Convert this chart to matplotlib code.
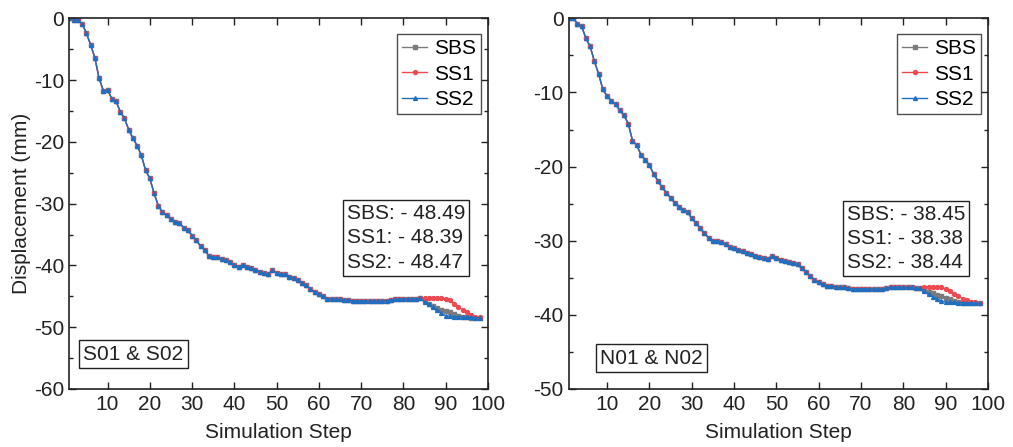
import numpy as np
import matplotlib
matplotlib.use("Agg")
import matplotlib.pyplot as plt
from matplotlib.ticker import MultipleLocator

plt.rcParams['font.family'] = ['Liberation Sans', 'DejaVu Sans']
plt.rcParams['axes.unicode_minus'] = False

# ---- Panel A: S01 & S02 -------------------------------------------------
steps = list(range(1, 99))

# shared path for steps 1..84
s_common = [
    0.0, -0.2, -0.3, -0.9, -2.4, -4.3, -6.4, -9.7, -11.7, -11.6,
    -13.0, -13.4, -15.1, -16.2, -18.0, -19.4, -20.6, -22.2, -24.6, -25.9,
    -28.3, -30.3, -31.4, -31.9, -32.5, -32.9, -33.1, -33.9, -34.2, -35.2,
    -35.9, -36.9, -37.5, -38.5, -38.6, -38.7, -38.9, -39.2, -39.5, -39.9,
    -40.2, -39.9, -40.2, -40.4, -40.7, -41.0, -41.2, -41.4, -40.8, -41.2,
    -41.4, -41.4, -41.8, -42.0, -42.3, -42.8, -43.2, -43.8, -44.3, -44.7,
    -45.0, -45.4, -45.4, -45.5, -45.5, -45.6, -45.6, -45.7, -45.7, -45.8,
    -45.7, -45.8, -45.7, -45.8, -45.8, -45.7, -45.6, -45.5, -45.5, -45.4,
    -45.4, -45.4, -45.4, -45.3,
]
s_sbs_tail = [-45.7, -46.2, -46.6, -46.9, -47.2, -47.4, -47.6, -47.9, -48.2, -48.4,
              -48.4, -48.45, -48.5, -48.49]
s_ss1_tail = [-45.2, -45.2, -45.2, -45.2, -45.3, -45.5, -45.6, -46.2, -46.7, -47.2,
              -47.6, -48.0, -48.3, -48.39]
s_ss2_tail = [-45.9, -46.2, -46.8, -47.2, -47.7, -48.2, -48.2, -48.3, -48.3, -48.3,
              -48.4, -48.4, -48.45, -48.47]

s_sbs = s_common + s_sbs_tail
s_ss1 = s_common + s_ss1_tail
s_ss2 = s_common + s_ss2_tail

# ---- Panel B: N01 & N02 -------------------------------------------------
n_common = [
    0.0, 0.0, -0.7, -1.1, -2.7, -3.8, -5.8, -7.5, -9.6, -10.5,
    -11.1, -11.6, -12.4, -13.1, -14.2, -16.5, -17.1, -18.4, -19.1, -19.8,
    -21.0, -21.9, -22.8, -23.5, -24.2, -24.9, -25.4, -25.8, -26.1, -27.0,
    -27.6, -28.3, -29.0, -29.6, -30.0, -30.0, -30.2, -30.5, -30.8, -31.0,
    -31.2, -31.4, -31.6, -31.8, -32.0, -32.2, -32.3, -32.5, -32.0, -32.3,
    -32.6, -32.7, -32.9, -33.0, -33.2, -33.7, -34.2, -34.8, -35.3, -35.6,
    -35.9, -36.1, -36.1, -36.2, -36.3, -36.3, -36.4, -36.5, -36.5, -36.5,
    -36.5, -36.5, -36.5, -36.5, -36.5, -36.4, -36.3, -36.3, -36.3, -36.3,
    -36.3, -36.3, -36.4, -36.4,
]
n_sbs_tail = [-36.6, -36.9, -37.1, -37.3, -37.5, -37.7, -37.9, -38.1, -38.3, -38.4,
              -38.4, -38.4, -38.45, -38.45]
n_ss1_tail = [-36.2, -36.2, -36.2, -36.3, -36.3, -36.5, -36.8, -37.2, -37.5, -37.8,
              -38.0, -38.2, -38.3, -38.38]
n_ss2_tail = [-36.8, -37.2, -37.6, -37.9, -38.1, -38.3, -38.3, -38.3, -38.35, -38.35,
              -38.4, -38.4, -38.42, -38.44]

n_sbs = n_common + n_sbs_tail
n_ss1 = n_common + n_ss1_tail
n_ss2 = n_common + n_ss2_tail

series_names = ["SBS", "SS1", "SS2"]
colors = ["#7b7b7b", "#f0484f", "#1f6fc0"]
markers = ["s", "o", "^"]

panels = [
    dict(data=[s_sbs, s_ss1, s_ss2], ylim=(-60, 0), tag="S01 & S02",
         finals=["- 48.49", "- 48.39", "- 48.47"],
         rect=[0.0686, 0.1298, 0.4131, 0.8292], ylabel=True,
         tagpos=(0.033, 0.120), boxpos=(0.663, 0.499)),
    dict(data=[n_sbs, n_ss1, n_ss2], ylim=(-50, 0), tag="N01 & N02",
         finals=["- 38.45", "- 38.38", "- 38.44"],
         rect=[0.5617, 0.1298, 0.4136, 0.8292], ylabel=False,
         tagpos=(0.074, 0.109), boxpos=(0.663, 0.497)),
]

fig = plt.figure(figsize=(10.13, 4.47), dpi=100)
fs = 15

for p in panels:
    ax = fig.add_axes(p["rect"])
    for vals, name, c, m in zip(p["data"], series_names, colors, markers):
        ax.plot(steps, vals, color=c, marker=m, markersize=2.8, linewidth=1.0,
                label=name)
    ax.set_xlim(1, 100)
    ax.set_ylim(*p["ylim"])
    ax.yaxis.set_major_locator(MultipleLocator(10))
    ax.yaxis.set_minor_locator(MultipleLocator(5))
    ax.set_xticks(range(10, 101, 10))
    ax.tick_params(which='both', direction='in', top=True, right=True,
                   labelsize=fs, colors='#222222', width=1.0)
    ax.tick_params(which='major', length=5, pad=4)
    ax.tick_params(which='minor', length=3)
    for sp in ax.spines.values():
        sp.set_linewidth(1.2)
        sp.set_color('#222222')
    ax.set_xlabel("Simulation Step", fontsize=fs, color='#222222', labelpad=7)
    if p["ylabel"]:
        ax.set_ylabel("Displacement (mm)", fontsize=fs, color='#222222', labelpad=2)

    leg = ax.legend(loc='upper right', bbox_to_anchor=(0.983, 0.957),
                    fontsize=fs, frameon=True, fancybox=False,
                    edgecolor='#222222', handlelength=1.2, handletextpad=0.3,
                    borderpad=0.25, labelspacing=0.3, borderaxespad=0.0)
    leg.get_frame().set_linewidth(1.0)

    summary = "\n".join(f"{n}: {v}" for n, v in zip(series_names, p["finals"]))
    ax.text(p["boxpos"][0], p["boxpos"][1], summary, transform=ax.transAxes,
            fontsize=fs, color='#222222', va='top', ha='left', linespacing=1.35,
            bbox=dict(boxstyle='square,pad=0.2', facecolor='white',
                      edgecolor='#222222', linewidth=1.0))
    ax.text(p["tagpos"][0], p["tagpos"][1], p["tag"], transform=ax.transAxes,
            fontsize=fs, color='#222222', va='top', ha='left',
            bbox=dict(boxstyle='square,pad=0.2', facecolor='white',
                      edgecolor='#222222', linewidth=1.0))

fig.savefig("out.png", dpi=100)
